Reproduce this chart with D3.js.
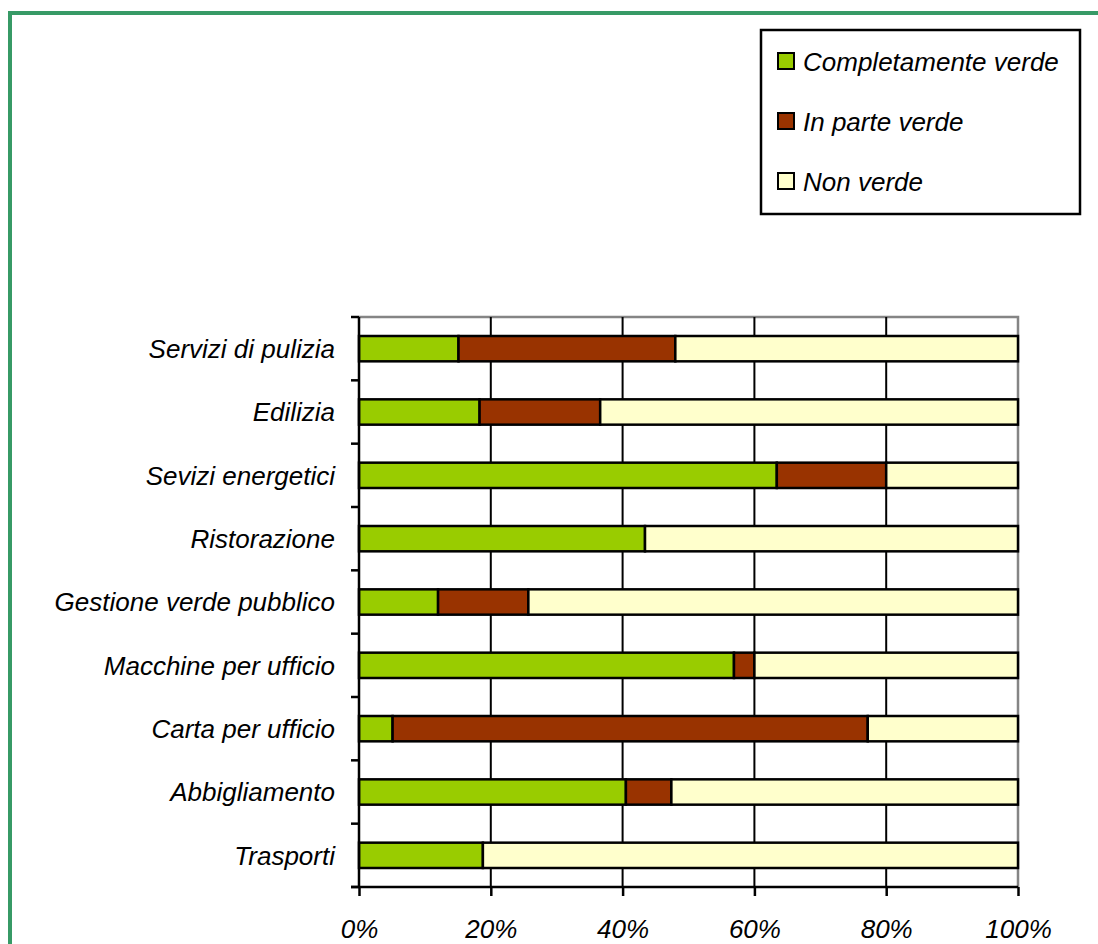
<!DOCTYPE html>
<html>
<head>
<meta charset="utf-8">
<script src="https://cdn.jsdelivr.net/npm/d3@7"></script>
<style>
  html, body { margin: 0; padding: 0; background: #fff; }
  svg { display: block; }
  text { font-family: "Liberation Sans", Arial, Helvetica, sans-serif; font-style: italic; fill: #000; }
</style>
</head>
<body>
<svg id="chart" width="1098" height="944"></svg>
<script>
// Categorie (dall'alto verso il basso)
const categories = [
  "Servizi di pulizia",
  "Edilizia",
  "Sevizi energetici",
  "Ristorazione",
  "Gestione verde pubblico",
  "Macchine per ufficio",
  "Carta per ufficio",
  "Abbigliamento",
  "Trasporti"
];

// Quote percentuali per serie
const completamenteVerde = [15.1, 18.3, 63.4, 43.4, 12.0, 56.9, 5.1, 40.5, 18.8];
const inParteVerde       = [32.9, 18.3, 16.6,  0.0, 13.7,  3.1, 72.1,  6.9,  0.0];
const nonVerde           = [52.0, 63.4, 20.0, 56.6, 74.3, 40.0, 22.8, 52.6, 81.2];

const seriesNames = ["Completamente verde", "In parte verde", "Non verde"];
const seriesColors = ["#99CC00", "#993300", "#FFFFCC"];
const xTicks = [0, 20, 40, 60, 80, 100];

const rows = categories.map((c, i) => ({
  cat: c,
  [seriesNames[0]]: completamenteVerde[i],
  [seriesNames[1]]: inParteVerde[i],
  [seriesNames[2]]: nonVerde[i]
}));

const svg = d3.select("#chart");

// Cornice verde esterna
svg.append("rect")
  .attr("x", 10).attr("y", 13)
  .attr("width", 1200).attr("height", 1000)
  .attr("fill", "none")
  .attr("stroke", "#379a66")
  .attr("stroke-width", 4);

const plot = { left: 359, right: 1018, top: 317, bottom: 887 };

const x = d3.scaleLinear().domain([0, 100]).range([plot.left, plot.right]);
const y = d3.scaleBand()
  .domain(categories)
  .range([plot.top, plot.bottom])
  .paddingInner(0.6)
  .paddingOuter(0.3);
const color = d3.scaleOrdinal().domain(seriesNames).range(seriesColors);

// Bordo area del grafico (grigio, lati superiore e destro)
svg.append("path")
  .attr("d", `M${plot.left},${plot.top}H${plot.right}V${plot.bottom}`)
  .attr("fill", "none")
  .attr("stroke", "#858585")
  .attr("stroke-width", 2.5);

// Griglia verticale
svg.append("g")
  .selectAll("line")
  .data(xTicks.filter(d => d > 0 && d < 100))
  .join("line")
  .attr("x1", d => x(d)).attr("x2", d => x(d))
  .attr("y1", plot.top).attr("y2", plot.bottom)
  .attr("stroke", "#000")
  .attr("stroke-width", 2);

// Barre impilate
const stacked = d3.stack().keys(seriesNames)(rows);
svg.append("g")
  .selectAll("g")
  .data(stacked)
  .join("g")
  .attr("fill", d => color(d.key))
  .selectAll("rect")
  .data(d => d.filter(s => s[1] - s[0] > 0))
  .join("rect")
  .attr("x", d => x(d[0]))
  .attr("y", d => y(d.data.cat))
  .attr("width", d => x(d[1]) - x(d[0]))
  .attr("height", y.bandwidth())
  .attr("stroke", "#000")
  .attr("stroke-width", 2.5);

// Asse verticale con tacche ai confini delle categorie
const yAxis = svg.append("g");
yAxis.append("line")
  .attr("x1", plot.left).attr("x2", plot.left)
  .attr("y1", plot.top).attr("y2", plot.bottom)
  .attr("stroke", "#000").attr("stroke-width", 2.5);
const boundaries = d3.range(categories.length + 1).map(i => plot.top + i * y.step());
yAxis.selectAll("line.tick")
  .data(boundaries)
  .join("line")
  .attr("class", "tick")
  .attr("x1", plot.left - 8).attr("x2", plot.left)
  .attr("y1", d => d).attr("y2", d => d)
  .attr("stroke", "#000").attr("stroke-width", 2.5);
yAxis.selectAll("text")
  .data(categories)
  .join("text")
  .attr("x", 335)
  .attr("y", d => y(d) + y.bandwidth() / 2)
  .attr("dy", "0.36em")
  .attr("text-anchor", "end")
  .attr("font-size", 26)
  .text(d => d);

// Asse orizzontale
const xAxis = svg.append("g")
  .attr("transform", `translate(0,${plot.bottom})`)
  .call(d3.axisBottom(x).tickValues(xTicks).tickSize(9).tickFormat(d => d + "%"));
xAxis.select(".domain")
  .attr("d", `M${plot.left - 8},0H${plot.right}`)
  .attr("stroke", "#000").attr("stroke-width", 2.5);
xAxis.selectAll(".tick line").attr("stroke", "#000").attr("stroke-width", 2.5);
xAxis.selectAll(".tick text")
  .attr("y", 51).attr("dy", 0)
  .attr("font-size", 26)
  .attr("font-family", "'Liberation Sans', Arial, Helvetica, sans-serif")
  .style("font-style", "italic")
  .attr("fill", "#000");

// Legenda
const legend = svg.append("g");
legend.append("rect")
  .attr("x", 761).attr("y", 30)
  .attr("width", 319).attr("height", 184)
  .attr("fill", "#fff")
  .attr("stroke", "#000").attr("stroke-width", 2.5);
const item = legend.selectAll("g.item")
  .data(seriesNames)
  .join("g")
  .attr("class", "item")
  .attr("transform", (d, i) => `translate(0,${i * 60})`);
item.append("rect")
  .attr("x", 778).attr("y", 53)
  .attr("width", 16).attr("height", 16)
  .attr("fill", d => color(d))
  .attr("stroke", "#000").attr("stroke-width", 2);
item.append("text")
  .attr("x", 803).attr("y", 70.5)
  .attr("font-size", 26)
  .text(d => d);
</script>
</body>
</html>
